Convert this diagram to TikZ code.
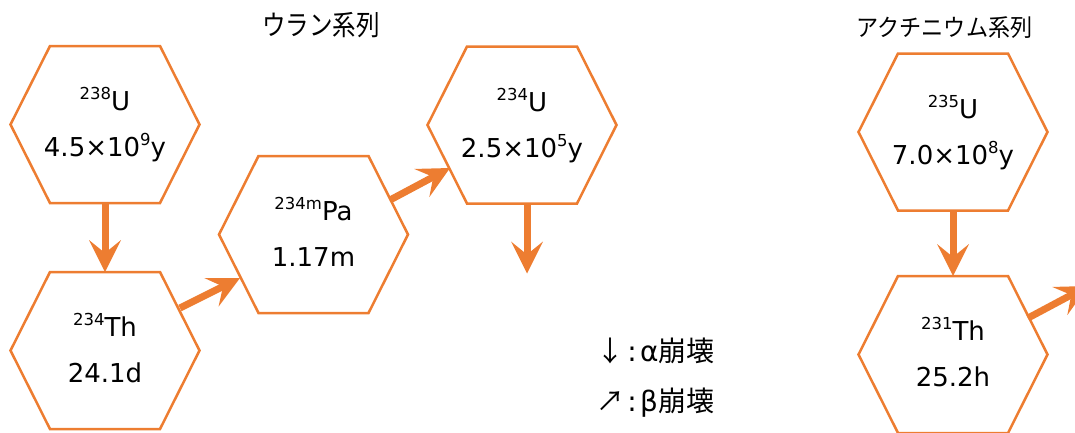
\documentclass[tikz,border=0pt]{standalone}
\usepackage{fontspec}
\usepackage{graphicx}
\setmainfont{DejaVu Sans}
\newfontfamily\jpfont{Noto Sans CJK JP}
\usetikzlibrary{arrows.meta,calc}
\definecolor{hexorange}{HTML}{ED7D31}
\newcommand\sups[1]{\raisebox{11pt}{\fontsize{16.5}{16.5}\selectfont #1}}
\newcommand\hexoutline[1]{%
  \draw[hexline] (#1.west) -- ($(#1.north west)+(39.5,0)$) -- ($(#1.north east)+(-39.5,0)$)
    -- (#1.east) -- ($(#1.south east)+(-39.5,0)$) -- ($(#1.south west)+(39.5,0)$) -- cycle;}
\begin{document}
\begin{tikzpicture}[x=1pt,y=-1pt,
  hexbox/.style={rectangle,draw=none,inner sep=0pt,outer sep=0pt,minimum width=189pt,minimum height=157pt},
  hexline/.style={draw=hexorange,line width=2.5pt,line join=miter},
  arr/.style={draw=hexorange,line width=7pt,-{Stealth[length=32pt,width=32pt,inset=13pt,line width=0pt]}},
  lbl/.style={anchor=base,font=\fontsize{26}{30}\selectfont,text=black,inner sep=0pt},
  ttl/.style={inner sep=0pt,text=black},
  legend/.style={anchor=base west,inner sep=0pt,font=\fontsize{28}{32}\selectfont,text=black}
]
\useasboundingbox (0,0) rectangle (1075,432);
\clip (0,0) rectangle (1075,432);

% titles
\node[ttl,font=\jpfont\fontsize{28}{32}\selectfont] (t1) at (321,25.5) {\scalebox{0.84}[1]{ウラン系列}};
\node[ttl,font=\jpfont\fontsize{24}{28}\selectfont] (t2) at (944.5,27.5) {\scalebox{0.92}[1]{アクチニウム系列}};

% hexagons
\node[hexbox] (u238) at (105,124.5) {};
\node[hexbox] (th234) at (105,350.5) {};
\node[hexbox] (pa234) at (313.5,234.5) {};
\node[hexbox] (u234) at (522,125) {};
\node[hexbox] (u235) at (953,132) {};
\node[hexbox] (th231) at (953,354.5) {};
\foreach \h in {u238,th234,pa234,u234,u235,th231}{\hexoutline{\h}}

% texts
\node[lbl] (u238a) at ($(u238.center)+(0,-14)$) {\sups{238}U};
\node[lbl] (u238b) at ($(u238.center)+(0,32)$) {4.5×10\sups{9}y};
\node[lbl] (th234a) at ($(th234.center)+(0,-14)$) {\sups{234}Th};
\node[lbl] (th234b) at ($(th234.center)+(0,32)$) {24.1d};
\node[lbl] (pa234a) at ($(pa234.center)+(0,-14)$) {\sups{234m}Pa};
\node[lbl] (pa234b) at ($(pa234.center)+(0,32)$) {1.17m};
\node[lbl] (u234a) at ($(u234.center)+(0,-14)$) {\sups{234}U};
\node[lbl] (u234b) at ($(u234.center)+(0,32)$) {2.5×10\sups{5}y};
\node[lbl] (u235a) at ($(u235.center)+(0,-14)$) {\sups{235}U};
\node[lbl] (u235b) at ($(u235.center)+(0,32)$) {7.0×10\sups{8}y};
\node[lbl] (th231a) at ($(th231.center)+(0,-14)$) {\sups{231}Th};
\node[lbl] (th231b) at ($(th231.center)+(0,32)$) {25.2h};

% arrows
\coordinate (u234end) at ($(u234.south)+(5,70)$);
\coordinate (th231end) at ($(th231.center)+(135,-68.5)$);
\draw[arr] (u238.south) -- (th234.north);
\draw[arr] ($(th234.center)+(75,-42.5)$) -- ($(pa234.center)+(-73.5,43.5)$);
\draw[arr] ($(pa234.center)+(76.5,-34.5)$) -- ($(u234.center)+(-72,43)$);
\draw[arr] ($(u234.south)+(5,0)$) -- (u234end);
\draw[arr] (u235.south) -- (th231.north);
\draw[arr] ($(th231.center)+(75,-36.5)$) -- (th231end);

% legend
\node[legend] (lega) at (596,361) {{\jpfont ↓}\makebox[16pt][c]{:}α{\jpfont 崩壊}};
\node[legend] (legb) at (596,411) {{\jpfont ↗}\makebox[16pt][c]{:}β{\jpfont 崩壊}};
\end{tikzpicture}
\end{document}
